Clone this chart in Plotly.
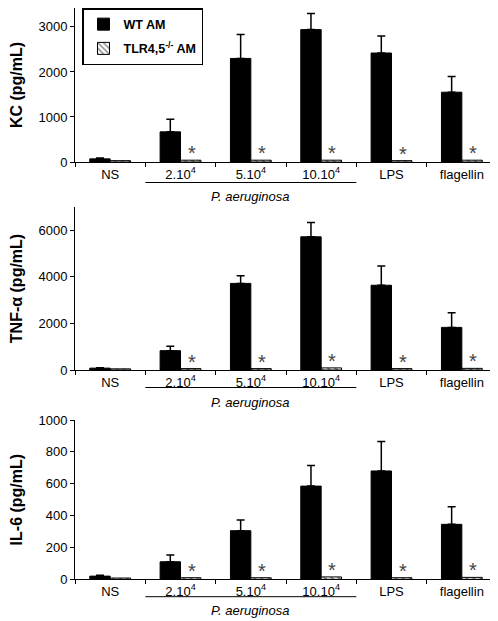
import plotly.graph_objects as go

# ---------------- data ----------------
categories = ["NS", "2.10^4", "5.10^4", "10.10^4", "LPS", "flagellin"]
tick_labels = ["NS", "2.10<sup>4</sup>", "5.10<sup>4</sup>", "10.10<sup>4</sup>", "LPS", "flagellin"]
series_names = ["WT AM", "TLR4,5<sup>-/-</sup> AM"]

kc_wt = [70, 670, 2300, 2940, 2420, 1550]
kc_wt_sem = [20, 280, 530, 360, 380, 350]
kc_ko = [30, 40, 40, 40, 30, 40]

tnf_wt = [80, 830, 3720, 5720, 3640, 1830]
tnf_wt_sem = [20, 190, 330, 610, 830, 630]
tnf_ko = [50, 60, 60, 90, 60, 70]

il6_wt = [20, 110, 305, 585, 680, 345]
il6_wt_sem = [5, 43, 67, 130, 185, 110]
il6_ko = [8, 10, 10, 15, 10, 12]

significant = [False, True, True, True, True, True]

y_titles = ["KC (pg/mL)", "TNF-\u03b1 (pg/mL)", "IL-6 (pg/mL)"]
y_ranges = [[0, 3420], [0, 7000], [0, 1000]]
y_ticks = [[0, 1000, 2000, 3000], [0, 2000, 4000, 6000], [0, 200, 400, 600, 800, 1000]]
group_label = "P. aeruginosa"
# ---------------------------------------

# the page body has an 8px margin: work in page pixels and convert
OFF = 8
PAGE_W, PAGE_H = 498, 621
W, H = PAGE_W - OFF, PAGE_H - OFF

def py(px):
    return min(1.0, max(0.0, 1 - (px - OFF) / H))

def pxx(px):
    return min(1.0, max(0.0, (px - OFF) / W))

panels = [
    (kc_wt, kc_wt_sem, kc_ko),
    (tnf_wt, tnf_wt_sem, tnf_ko),
    (il6_wt, il6_wt_sem, il6_ko),
]
# page-pixel geometry: (axis top, zero line, underline y, group label y)
geom = [(8, 162, 182.5, 196.5), (207, 370, 387.5, 402), (420, 579.3, 596.7, 610)]

FONT = "Liberation Sans, Arial, sans-serif"
fig = go.Figure()
layout = {}
annotations = []
shapes = []

for i, ((wt, sem, ko), (top, zero, uline, glabel)) in enumerate(zip(panels, geom)):
    n = i + 1
    xa = "x" if n == 1 else f"x{n}"
    ya = "y" if n == 1 else f"y{n}"
    fig.add_trace(go.Bar(
        x=categories, y=wt, name=series_names[0], xaxis=xa, yaxis=ya,
        marker=dict(color="black", line=dict(color="black", width=1)),
        error_y=dict(type="data", array=sem, arrayminus=[0] * len(sem),
                     color="black", thickness=1.5, width=4),
        showlegend=(n == 1), legendgroup="wt", offsetgroup="wt",
    ))
    fig.add_trace(go.Bar(
        x=categories, y=ko, name=series_names[1], xaxis=xa, yaxis=ya,
        marker=dict(color="white", line=dict(color="black", width=1),
                    pattern=dict(shape="\\", fgcolor="black", bgcolor="white",
                                 size=5, solidity=0.35)),
        showlegend=(n == 1), legendgroup="ko", offsetgroup="ko",
    ))
    xkey = "xaxis" if n == 1 else f"xaxis{n}"
    ykey = "yaxis" if n == 1 else f"yaxis{n}"
    layout[xkey] = dict(
        domain=[pxx(75), pxx(497)], anchor=ya, type="category",
        categoryorder="array", categoryarray=categories,
        tickvals=categories, ticktext=tick_labels,
        range=[-0.5, 5.5], showline=True, linecolor="black", linewidth=1,
        ticks="outside", tickson="boundaries", ticklen=4, tickcolor="black",
        tickfont=dict(family=FONT, size=13, color="black"),
        showgrid=False, zeroline=False, fixedrange=True, automargin=False,
    )
    layout[ykey] = dict(
        domain=[py(zero), py(top)], anchor=xa, range=y_ranges[i],
        tickvals=y_ticks[i], showline=True, linecolor="black", linewidth=1,
        ticks="outside", ticklen=4, tickcolor="black",
        tickfont=dict(family=FONT, size=13, color="black"),
        showgrid=False, zeroline=False, automargin=False,
        title=dict(text="<b>" + y_titles[i] + "</b>", standoff=14,
                   font=dict(family=FONT, size=16, color="black")),
    )
    for j, (k, s) in enumerate(zip(ko, significant)):
        if s:
            annotations.append(dict(
                x=j, y=k, xref=xa, yref=ya, text="*", showarrow=False,
                xshift=11, yshift=-6, yanchor="bottom",
                font=dict(family=FONT, size=20, color="#444444"),
            ))
    shapes.append(dict(type="line", xref=xa, yref="paper",
                       x0=0.5, x1=3.5, y0=py(uline), y1=py(uline),
                       line=dict(color="black", width=1)))
    annotations.append(dict(
        x=2, y=py(glabel), xref=xa, yref="paper",
        text="<i>" + group_label + "</i>", showarrow=False, yanchor="middle",
        font=dict(family=FONT, size=13, color="black"),
    ))

fig.update_layout(
    **layout,
    width=W, height=H,
    margin=dict(l=0, r=0, t=0, b=0, autoexpand=False),
    paper_bgcolor="white", plot_bgcolor="white",
    barmode="group", bargap=0.42, bargroupgap=0,
    annotations=annotations, shapes=shapes,
    legend=dict(x=pxx(82), y=py(8), xanchor="left", yanchor="top",
                bordercolor="black", borderwidth=1.5, bgcolor="white",
                font=dict(family=FONT, size=12.5, color="black"),
                tracegroupgap=5),
)
for tr in fig.data:
    if tr.showlegend:
        tr.name = "<b>" + tr.name + "</b>"

fig.write_html("out.html")
